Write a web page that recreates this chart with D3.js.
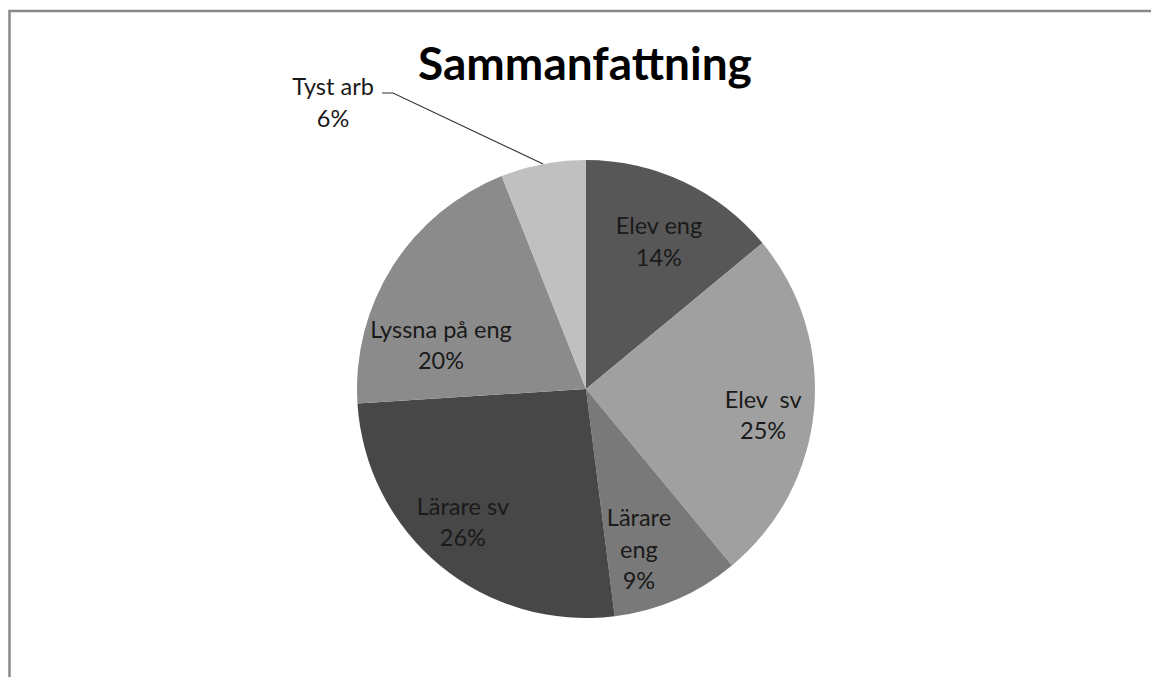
<!DOCTYPE html>
<html>
<head>
<meta charset="utf-8">
<script src="https://cdn.jsdelivr.net/npm/d3@7"></script>
<style>
  html, body { margin: 0; padding: 0; background: #fff; overflow: hidden; }
  svg { display: block; }
</style>
</head>
<body>
<svg id="chart" width="1151" height="677"></svg>
<script>
// Categories and their shares (percent), in clockwise order from 12 o'clock
const categories = ["Elev eng", "Elev  sv", "Lärare eng", "Lärare sv", "Lyssna på eng", "Tyst arb"];
const values = [14, 25, 9, 26, 20, 6];
const sliceColors = ["#575757", "#a0a0a0", "#797979", "#474747", "#8b8b8b", "#c0c0c0"];

// Label line breaks for each slice
const labelLines = [
  ["Elev eng"], ["Elev  sv"], ["Lärare", "eng"], ["Lärare sv"], ["Lyssna på eng"], ["Tyst arb"]
];

// Label placement: t = fraction along the slice's angle, r = fraction of radius
const labelPlacement = [
  { t: 0.524, r: 0.716 },
  { t: 0.534, r: 0.782 },
  { t: 0.66,  r: 0.74 },
  { t: 0.533, r: 0.793 },
  { t: 0.282, r: 0.661 },
  { outside: true }
];

const svg = d3.select("#chart");
const W = 1151, H = 677;

// Outer frame: only the left and top edges lie inside the view
svg.append("path")
  .attr("d", `M9.5,${H + 5}V11H${W + 5}`)
  .attr("fill", "none")
  .attr("stroke", "#898989")
  .attr("stroke-width", 2.5);

// Title
svg.append("text")
  .attr("x", 585).attr("y", 80)
  .attr("text-anchor", "middle")
  .attr("font-family", "Lato, 'Open Sans', sans-serif")
  .attr("font-weight", "bold")
  .attr("font-size", 46)
  .attr("fill", "#000")
  .text("Sammanfattning");

const cx = 586, cy = 389, R = 229;
const g = svg.append("g").attr("transform", `translate(${cx},${cy})`);

const pie = d3.pie().sort(null).value(d => d.value);
const data = categories.map((c, i) => ({ name: c, value: values[i], lines: labelLines[i], place: labelPlacement[i], color: sliceColors[i] }));
const arcs = pie(data);
const arc = d3.arc().innerRadius(0).outerRadius(R);

g.selectAll("path.slice")
  .data(arcs)
  .join("path")
  .attr("class", "slice")
  .attr("d", arc)
  .attr("fill", d => d.data.color);

const fontFam = "Lato, 'Open Sans', sans-serif";
const fontSize = 23.5;
const lineGap = 31.5;
const pct = d => `${d.data.value}%`;

function polar(angle, r) {
  return [Math.sin(angle) * r, -Math.cos(angle) * r];
}

arcs.forEach(d => {
  const p = d.data.place;
  const lines = d.data.lines.concat([pct(d)]);
  let lx, ly;
  if (!p.outside) {
    const a = d.startAngle + (d.endAngle - d.startAngle) * p.t;
    [lx, ly] = polar(a, R * p.r);
  } else {
    // Outside label with leader line to the slice's mid-arc
    const mid = (d.startAngle + d.endAngle) / 2;
    const [ex, ey] = polar(mid, R);
    lx = 333 - cx; ly = 103 - cy;
    const hookY = 93 - cy;
    const hookX0 = 382 - cx, hookX1 = 393 - cx;
    g.append("path")
      .attr("d", d3.line()([[hookX0, hookY], [hookX1, hookY], [ex, ey]]))
      .attr("fill", "none")
      .attr("stroke", "#333")
      .attr("stroke-width", 1.1);
  }
  const n = lines.length;
  const t = g.append("text")
    .attr("text-anchor", "middle")
    .attr("font-family", fontFam)
    .attr("font-size", fontSize)
    .attr("fill", "#1a1a1a")
    .style("white-space", "pre");
  lines.forEach((s, i) => {
    t.append("tspan")
      .attr("x", lx)
      .attr("y", ly + 8 + (i - (n - 1) / 2) * lineGap)
      .text(s);
  });
});
</script>
</body>
</html>
